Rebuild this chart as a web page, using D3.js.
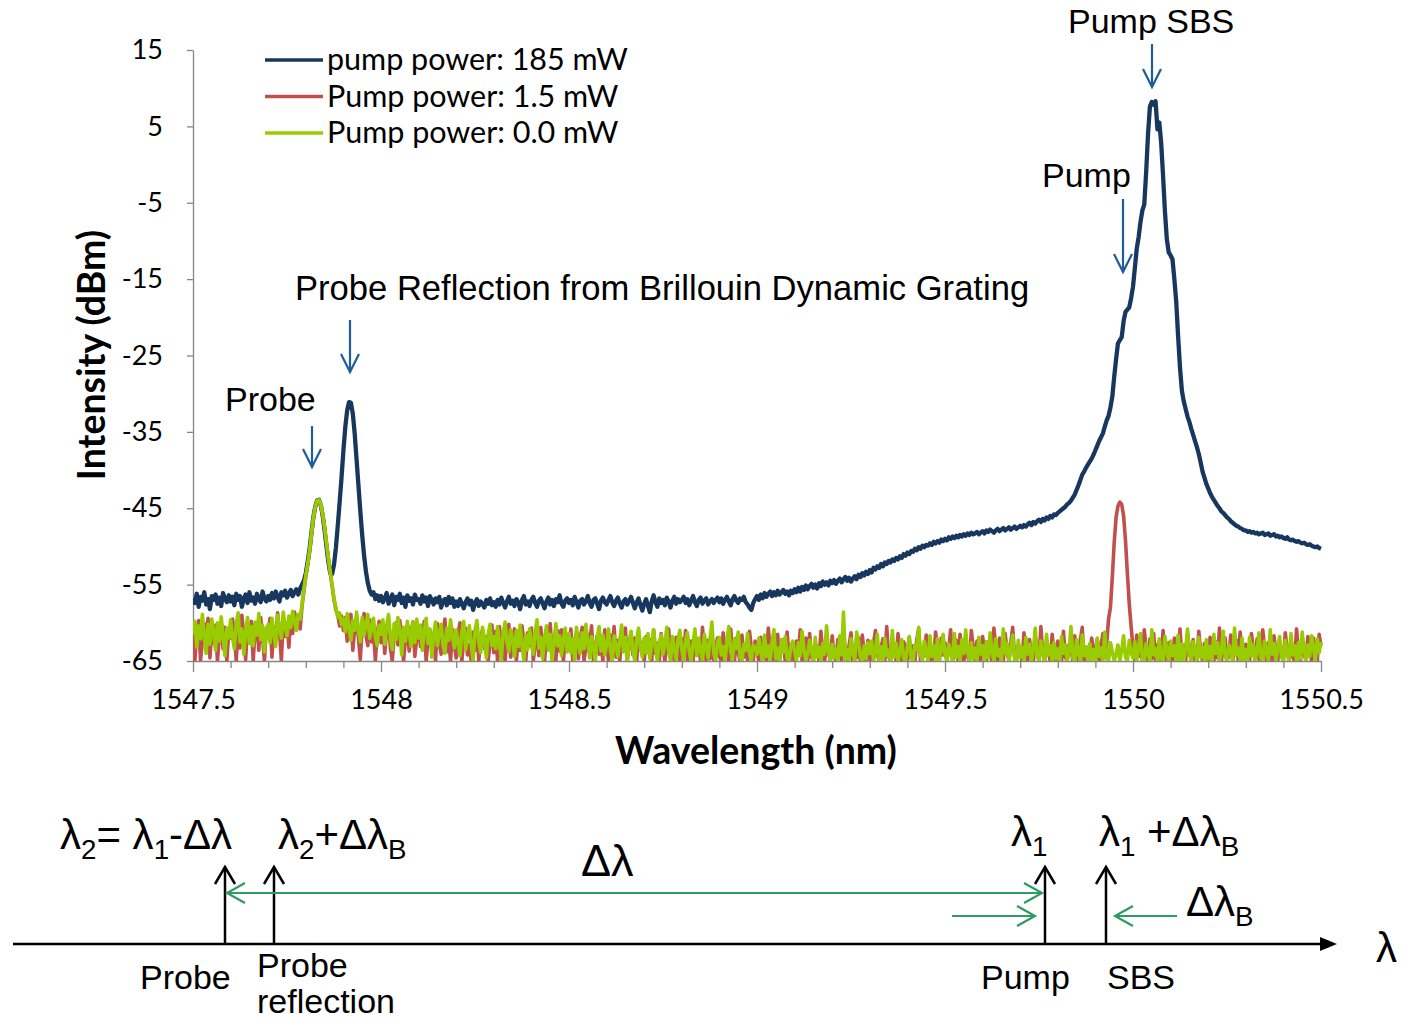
<!DOCTYPE html>
<html>
<head>
<meta charset="utf-8">
<script src="https://cdn.jsdelivr.net/npm/d3@7"></script>
<style>
  html, body { margin: 0; padding: 0; background: #fff; }
  svg { display: block; }
  text { white-space: pre; }
</style>
</head>
<body>
<svg id="chart" width="1402" height="1022"></svg>
<script>
// Optical spectrum: wavelength grid of the analyser (nm)
const waveStart = 1547.5;
const waveStep = 0.005;

// Intensity (dBm), pump power 185 mW
const pump185 = [
-56.8,-57.4,-56.2,-57.9,-56.6,-57.1,-56.0,-57.6,-56.9,-58.2,-56.5,-57.0,-56.3,-57.5,-56.7,-57.8,-56.1,-56.9,-57.3,-56.4,
-57.2,-56.6,-57.7,-56.2,-57.0,-56.5,-57.9,-56.8,-56.3,-57.4,-56.0,-57.1,-56.7,-57.5,-56.2,-56.9,-57.3,-55.9,-56.8,-57.2,
-56.5,-57.0,-56.1,-56.8,-55.9,-56.6,-57.2,-56.0,-56.4,-55.8,-56.7,-56.2,-55.7,-56.5,-56.0,-55.6,-56.3,-55.5,-55.0,-54.5,
-53.5,-52.0,-50.3,-48.2,-46.2,-44.8,-44.0,-43.9,-44.6,-46.0,-47.9,-50.0,-52.0,-53.5,-53.6,-52.4,-50.2,-47.3,-44.2,-41.0,
-37.5,-34.4,-32.2,-31.1,-31.2,-32.6,-35.2,-38.6,-42.0,-45.4,-48.5,-51.2,-53.3,-54.8,-55.8,-56.3,-56.0,-56.9,-56.4,-57.1,
-56.5,-57.3,-56.8,-56.1,-57.5,-56.9,-56.3,-57.7,-56.6,-57.0,-56.2,-57.4,-56.7,-57.9,-56.4,-57.1,-56.8,-57.6,-56.3,-57.0,
-56.9,-57.5,-56.4,-57.2,-56.7,-57.8,-56.5,-57.0,-57.6,-56.8,-57.3,-56.6,-58.0,-57.1,-56.9,-57.7,-56.6,-57.4,-56.8,-57.9,
-57.2,-57.8,-56.9,-57.5,-58.1,-57.3,-56.8,-57.6,-57.1,-58.3,-57.4,-56.9,-57.8,-57.2,-57.6,-58.0,-57.0,-57.5,-56.8,-57.7,
-57.3,-57.9,-57.0,-57.6,-56.7,-57.4,-58.0,-57.2,-56.6,-57.5,-57.1,-57.8,-56.9,-57.3,-58.2,-57.0,-56.5,-57.6,-57.2,-57.8,
-57.0,-56.6,-57.4,-57.9,-57.1,-56.8,-57.5,-58.1,-57.2,-56.7,-57.6,-57.0,-57.8,-56.9,-57.3,-56.4,-57.5,-57.9,-57.1,-56.8,
-57.4,-57.0,-57.7,-56.6,-57.3,-58.0,-57.1,-56.9,-57.6,-57.2,-56.5,-57.4,-57.9,-57.0,-56.8,-57.5,-58.2,-57.1,-56.7,-57.3,
-57.6,-57.0,-56.5,-57.3,-57.8,-57.1,-56.7,-57.5,-58.0,-57.2,-56.9,-57.6,-57.1,-56.6,-57.4,-58.1,-57.3,-56.8,-57.7,-58.4,
-57.5,-56.9,-57.8,-58.6,-57.2,-56.4,-57.3,-57.9,-56.8,-57.4,-57.0,-57.7,-56.7,-57.2,-58.0,-57.1,-56.6,-57.5,-56.9,-57.3,
-57.0,-56.6,-57.4,-56.9,-57.7,-57.1,-56.5,-57.3,-57.8,-57.0,-56.7,-57.5,-57.1,-56.8,-57.6,-57.2,-56.9,-57.4,-57.0,-56.7,
-57.3,-56.8,-57.5,-57.0,-56.6,-57.2,-57.7,-56.9,-56.5,-57.1,-57.4,-56.8,-57.0,-56.6,-57.3,-57.6,-58.0,-58.3,-57.4,-56.9,
-56.5,-57.0,-56.3,-56.8,-56.1,-56.6,-56.2,-55.9,-56.5,-56.0,-56.4,-55.8,-56.3,-56.0,-55.7,-56.2,-55.9,-56.4,-55.8,-56.1,
-55.6,-56.0,-55.4,-55.9,-55.3,-55.7,-55.1,-55.6,-55.2,-54.9,-55.4,-55.0,-55.5,-54.8,-55.2,-54.6,-55.0,-54.7,-55.1,-54.5,
-54.8,-54.4,-54.9,-54.5,-54.2,-54.7,-54.3,-54.0,-54.5,-54.1,-54.6,-54.2,-53.9,-54.3,-53.7,-54.0,-53.5,-53.8,-53.3,-53.6,
-53.1,-53.4,-52.8,-53.0,-52.6,-52.8,-52.3,-52.6,-52.1,-52.3,-51.9,-52.1,-51.7,-51.9,-51.5,-51.7,-51.3,-51.5,-51.0,-51.2,
-50.8,-51.0,-50.6,-50.7,-50.3,-50.5,-50.1,-50.3,-49.9,-50.1,-49.8,-49.9,-49.6,-49.8,-49.4,-49.6,-49.3,-49.5,-49.1,-49.3,
-49.0,-49.2,-48.8,-49.0,-48.7,-48.9,-48.6,-48.8,-48.5,-48.7,-48.4,-48.6,-48.3,-48.5,-48.2,-48.4,-48.3,-48.1,-48.4,-48.2,
-48.0,-48.3,-47.9,-48.1,-47.8,-48.0,-48.2,-47.9,-47.7,-48.0,-47.8,-47.6,-47.9,-47.7,-47.5,-47.8,-47.6,-47.4,-47.7,-47.5,
-47.3,-47.5,-47.2,-47.4,-47.1,-46.9,-47.2,-46.8,-47.0,-46.7,-46.5,-46.8,-46.4,-46.6,-46.2,-46.4,-46.0,-46.2,-45.8,-45.9,
-45.6,-45.4,-45.2,-45.0,-44.8,-44.5,-44.3,-44.0,-43.6,-43.2,-42.6,-42.0,-41.3,-40.6,-40.2,-39.7,-39.3,-38.9,-38.5,-38.0,
-37.4,-36.8,-36.2,-35.7,-35.2,-34.3,-33.5,-32.9,-31.8,-30.4,-27.8,-25.5,-23.4,-23.0,-22.6,-20.5,-19.3,-19.0,-18.7,-17.5,
-16.0,-13.5,-11.0,-9.5,-7.5,-6.0,-5.2,-1.0,4.0,7.6,8.2,7.8,8.3,4.6,5.5,2.8,-1.5,-6.2,-9.8,-11.5,
-11.9,-12.4,-15.0,-18.0,-22.5,-26.6,-29.6,-31.0,-32.0,-33.0,-33.7,-34.6,-35.4,-36.2,-37.0,-37.9,-39.0,-40.2,-41.0,-41.8,
-42.4,-43.0,-43.5,-43.9,-44.3,-44.7,-45.0,-45.4,-45.6,-45.9,-46.2,-46.4,-46.7,-46.9,-47.1,-47.3,-47.4,-47.6,-47.7,-47.9,
-47.9,-48.1,-48.0,-48.2,-48.1,-48.3,-48.2,-48.4,-48.3,-48.2,-48.5,-48.4,-48.3,-48.6,-48.5,-48.4,-48.7,-48.6,-48.8,-48.7,
-48.9,-49.0,-48.8,-49.1,-49.2,-49.1,-49.3,-49.4,-49.3,-49.5,-49.6,-49.5,-49.7,-49.8,-49.7,-49.9,-50.0,-50.1,-50.0,-50.2,
-50.3
];

// Intensity (dBm), pump power 1.5 mW
const pump15 = [
-60.8,-64.9,-61.5,-59.7,-65.0,-62.3,-60.1,-63.0,-59.4,-64.6,-61.0,-62.7,-60.3,-65.0,-61.8,-59.9,-63.4,-60.6,-65.0,-61.2,
-62.0,-59.5,-61.4,-65.0,-60.2,-63.3,-59.0,-61.7,-64.8,-60.5,-62.4,-59.8,-65.0,-61.1,-60.0,-63.6,-59.3,-61.9,-65.0,-60.7,
-61.3,-59.4,-64.5,-60.6,-62.2,-58.7,-61.0,-65.0,-59.6,-61.8,-60.0,-63.2,-59.2,-61.4,-58.6,-60.3,-59.0,-60.8,-57.8,-55.8,
-54.0,-52.5,-50.8,-48.6,-46.5,-45.0,-44.2,-44.0,-44.7,-46.0,-47.7,-49.7,-51.7,-53.5,-55.2,-57.0,-58.3,-59.0,-60.4,-59.1,
-61.0,-59.3,-62.4,-60.0,-58.9,-63.6,-60.7,-59.5,-62.0,-64.8,-60.4,-58.8,-61.7,-63.0,-59.6,-62.5,-60.9,-65.0,-61.3,-59.8,
-62.6,-60.2,-64.0,-61.0,-59.5,-63.3,-65.0,-61.6,-60.0,-62.9,-59.7,-61.4,-65.0,-62.1,-60.5,-63.7,-61.2,-59.9,-64.4,-62.0,
-60.6,-63.1,-61.9,-59.8,-65.0,-62.4,-60.9,-63.5,-61.3,-65.0,-60.1,-62.7,-64.1,-61.5,-59.5,-63.8,-62.2,-65.0,-60.8,-62.9,
-64.6,-61.4,-60.0,-65.0,-62.3,-60.7,-64.2,-62.9,-65.0,-61.2,-63.6,-60.4,-65.0,-62.0,-60.9,-63.4,-61.8,-65.0,-62.6,-60.3,
-63.9,-61.1,-65.0,-60.5,-63.2,-62.0,-65.0,-61.7,-60.2,-64.5,-62.8,-60.8,-65.0,-61.9,-63.6,-60.4,-62.4,-65.0,-61.3,-63.0,
-60.7,-65.0,-62.9,-61.4,-64.3,-60.6,-63.5,-65.0,-61.8,-62.6,-60.1,-64.0,-62.3,-65.0,-61.0,-63.7,-60.9,-65.0,-62.1,-61.6,
-63.4,-60.8,-65.0,-62.5,-61.2,-64.7,-62.0,-60.6,-65.0,-63.0,-61.5,-62.8,-60.4,-65.0,-63.3,-61.7,-64.1,-62.4,-65.0,-60.9,
-62.7,-65.0,-61.6,-63.2,-60.5,-64.5,-62.3,-65.0,-61.9,-63.7,-60.7,-65.0,-62.8,-61.3,-64.2,-62.0,-65.0,-61.1,-63.5,-62.6,
-65.0,-61.8,-63.9,-62.2,-65.0,-60.9,-64.0,-62.7,-65.0,-61.4,-63.3,-65.0,-62.5,-60.8,-64.6,-63.0,-65.0,-61.9,-63.6,-65.0,
-62.1,-64.3,-61.0,-65.0,-63.1,-62.4,-65.0,-61.7,-64.1,-62.9,-65.0,-60.6,-63.8,-65.0,-62.3,-64.7,-61.5,-65.0,-63.2,-62.0,
-64.4,-65.0,-61.3,-63.6,-62.5,-65.0,-60.8,-64.2,-65.0,-62.0,-63.9,-65.0,-61.6,-64.5,-62.8,-65.0,-61.1,-63.3,-65.0,-62.4,
-63.7,-65.0,-61.9,-64.6,-62.6,-65.0,-60.7,-63.4,-65.0,-62.1,-64.9,-61.5,-65.0,-63.0,-62.2,-65.0,-61.2,-64.3,-65.0,-62.8,
-65.0,-62.4,-64.1,-60.9,-65.0,-63.6,-62.0,-65.0,-61.4,-64.5,-65.0,-62.7,-63.3,-65.0,-61.1,-64.0,-65.0,-62.5,-63.8,-65.0,
-61.7,-64.4,-65.0,-62.2,-63.5,-65.0,-60.6,-64.2,-65.0,-62.9,-61.3,-65.0,-63.7,-64.6,-62.0,-65.0,-61.6,-63.9,-65.0,-62.3,
-64.8,-65.0,-62.6,-61.0,-64.1,-65.0,-63.2,-62.1,-65.0,-60.5,-64.4,-65.0,-62.8,-63.6,-65.0,-61.4,-64.0,-65.0,-62.5,-63.1,
-65.0,-61.9,-64.6,-63.0,-65.0,-62.2,-60.8,-65.0,-63.8,-64.3,-61.6,-65.0,-62.7,-64.9,-65.0,-61.2,-63.5,-65.0,-62.0,-64.2,
-62.6,-65.0,-63.4,-60.9,-65.0,-64.0,-62.3,-65.0,-61.5,-63.9,-65.0,-62.8,-64.5,-65.0,-61.0,-63.2,-65.0,-62.4,-64.7,-65.0,
-61.8,-63.6,-65.0,-62.5,-64.2,-65.0,-60.7,-63.1,-65.0,-62.0,-64.8,-65.0,-61.4,-63.7,-65.0,-62.6,-60.6,-64.3,-65.0,-62.9,
-64.0,-65.0,-61.3,-63.5,-65.0,-62.2,-64.6,-65.0,-61.9,-63.0,-65.0,-60.5,-64.1,-65.0,-62.7,-63.8,-65.0,-61.5,-64.4,-65.0,
-62.4,-63.9,-65.0,-61.1,-64.5,-65.0,-62.8,-63.4,-65.0,-61.7,-64.0,-65.0,-62.3,-60.6,-65.0,-63.6,-64.7,-65.0,-62.0,-63.3,
-64.6,-62.1,-65.0,-63.0,-61.4,-64.2,-62.8,-59.5,-58.0,-54.0,-49.5,-46.2,-44.7,-44.2,-44.5,-46.0,-49.2,-53.5,-57.5,-60.5,
-63.2,-65.0,-61.6,-64.4,-62.8,-65.0,-60.9,-63.5,-65.0,-62.1,-64.7,-61.4,-65.0,-63.0,-62.4,-65.0,-61.0,-64.3,-65.0,-62.6,
-64.1,-65.0,-62.0,-63.7,-65.0,-60.8,-64.5,-62.9,-65.0,-61.5,-63.4,-65.0,-62.2,-64.8,-65.0,-61.1,-63.6,-65.0,-62.7,-64.0,
-65.0,-61.9,-63.3,-65.0,-62.5,-64.6,-60.7,-65.0,-63.1,-62.0,-65.0,-64.2,-61.6,-65.0,-63.8,-62.3,-65.0,-61.2,-64.4,-65.0,
-62.8,-64.0,-65.0,-61.4,-63.5,-65.0,-62.1,-64.7,-65.0,-60.9,-63.2,-65.0,-62.6,-64.3,-65.0,-61.7,-63.9,-65.0,-62.4,-64.1,
-65.0,-61.3,-63.6,-65.0,-62.2,-64.5,-65.0,-60.8,-63.7,-65.0,-62.9,-64.0,-65.0,-61.8,-63.4,-65.0,-62.0,-64.6,-65.0,-61.5,
-63.0
];

// Intensity (dBm), pump power 0.0 mW
const pump00 = [
-61.5,-59.8,-63.2,-60.4,-62.1,-58.9,-61.7,-64.0,-60.2,-62.8,-59.5,-61.3,-63.6,-60.0,-62.4,-59.2,-61.8,-64.3,-60.7,-62.0,
-59.6,-61.9,-63.4,-60.1,-58.7,-62.5,-60.8,-64.1,-61.2,-59.3,-62.7,-60.5,-63.0,-59.9,-61.6,-58.8,-62.2,-60.3,-63.8,-61.0,
-60.2,-62.6,-59.4,-61.5,-63.1,-59.0,-60.9,-62.0,-58.6,-60.4,-61.7,-59.1,-60.6,-58.5,-59.8,-61.0,-58.9,-59.5,-57.5,-55.5,
-53.8,-52.3,-50.6,-48.4,-46.3,-44.8,-44.0,-43.9,-44.5,-45.8,-47.5,-49.5,-51.5,-53.3,-55.0,-56.8,-58.0,-59.3,-58.7,-60.2,
-59.5,-61.2,-58.8,-60.6,-62.3,-59.7,-61.0,-58.6,-60.9,-62.5,-59.3,-61.6,-60.2,-58.9,-62.0,-60.7,-59.4,-61.8,-63.0,-60.3,
-61.5,-59.6,-62.8,-60.4,-58.9,-61.9,-63.5,-60.1,-62.2,-59.3,-61.0,-64.2,-60.6,-62.4,-59.8,-61.3,-63.1,-60.0,-62.6,-59.5,
-62.0,-60.3,-63.6,-61.1,-59.4,-62.7,-60.8,-64.5,-61.6,-59.9,-63.0,-61.4,-60.2,-62.9,-64.0,-60.7,-62.3,-59.6,-61.8,-63.3,
-60.9,-62.6,-64.3,-61.2,-59.8,-63.5,-61.7,-60.4,-62.8,-65.0,-61.0,-59.7,-62.4,-63.9,-60.6,-62.1,-64.6,-61.5,-60.2,-63.0,
-61.8,-63.4,-60.5,-62.7,-64.8,-61.3,-59.9,-62.5,-63.8,-60.9,-62.2,-64.4,-61.0,-63.1,-60.3,-62.9,-65.0,-61.6,-63.5,-60.8,
-62.4,-64.1,-61.2,-59.6,-63.3,-61.9,-64.7,-62.0,-60.4,-63.6,-61.5,-65.0,-62.6,-60.1,-63.0,-61.7,-64.3,-62.2,-60.7,-63.8,
-61.4,-63.9,-62.1,-65.0,-60.6,-62.8,-64.0,-61.3,-63.4,-60.2,-62.5,-64.6,-61.8,-63.2,-65.0,-62.0,-60.5,-63.7,-61.6,-64.2,
-62.9,-60.8,-63.5,-65.0,-61.7,-63.0,-64.4,-62.3,-60.3,-63.8,-61.9,-64.9,-62.6,-61.1,-63.6,-65.0,-62.2,-60.7,-63.3,-64.5,
-62.0,-63.9,-61.4,-64.7,-62.8,-60.9,-63.2,-65.0,-62.5,-61.6,-64.1,-62.9,-60.6,-63.7,-65.0,-61.8,-63.4,-64.8,-62.1,-61.0,
-63.5,-64.9,-62.4,-61.3,-63.8,-65.0,-62.7,-60.8,-64.3,-62.0,-63.6,-65.0,-61.5,-63.0,-64.6,-62.2,-59.9,-63.9,-65.0,-62.6,
-61.9,-64.2,-63.1,-65.0,-62.3,-60.5,-63.7,-64.8,-62.1,-63.4,-61.2,-64.5,-65.0,-62.8,-63.6,-61.4,-64.0,-65.0,-62.9,-63.3,
-64.1,-62.0,-63.8,-65.0,-61.6,-64.4,-63.0,-65.0,-62.5,-60.9,-64.7,-63.3,-65.0,-62.2,-63.9,-61.8,-64.6,-65.0,-63.1,-62.4,
-63.7,-65.0,-62.6,-64.3,-61.1,-63.5,-65.0,-64.0,-62.3,-63.8,-65.0,-61.9,-64.5,-63.2,-65.0,-62.7,-64.1,-60.4,-63.6,-65.0,
-62.8,-64.6,-63.4,-65.0,-61.7,-64.2,-58.6,-65.0,-63.5,-64.8,-62.1,-63.9,-65.0,-61.2,-62.5,-64.4,-65.0,-63.0,-64.7,-62.6,
-64.0,-62.4,-65.0,-63.7,-61.5,-64.9,-63.1,-65.0,-62.0,-64.3,-63.6,-65.0,-61.0,-64.5,-62.7,-65.0,-63.8,-62.2,-64.6,-65.0,
-63.2,-61.8,-64.7,-65.0,-62.9,-63.5,-60.6,-64.1,-65.0,-62.4,-63.9,-65.0,-61.7,-64.4,-63.0,-65.0,-62.1,-64.8,-63.6,-61.5,
-64.2,-65.0,-62.8,-63.7,-65.0,-61.4,-64.5,-63.1,-65.0,-62.2,-64.0,-60.9,-63.8,-65.0,-62.6,-64.7,-63.3,-65.0,-61.9,-64.1,
-63.0,-65.0,-62.5,-64.6,-61.3,-63.9,-65.0,-62.1,-64.3,-63.5,-65.0,-60.8,-64.0,-62.7,-65.0,-63.4,-61.6,-64.9,-65.0,-62.3,
-64.5,-63.2,-65.0,-61.9,-64.1,-62.8,-65.0,-63.6,-60.7,-64.4,-65.0,-62.4,-63.8,-65.0,-61.5,-64.2,-63.0,-65.0,-62.6,-64.7,
-63.4,-65.0,-61.8,-64.0,-62.9,-65.0,-63.7,-60.5,-64.6,-65.0,-62.2,-63.9,-65.0,-61.6,-64.3,-63.1,-65.0,-62.7,-64.8,-63.5,
-65.0,-62.0,-64.4,-63.3,-65.0,-61.2,-64.7,-65.0,-62.6,-63.8,-65.0,-64.1,-62.9,-65.0,-63.6,-61.7,-64.5,-65.0,-62.3,-63.9,
-64.6,-62.5,-65.0,-63.2,-61.4,-64.8,-65.0,-62.7,-63.9,-65.0,-60.9,-64.2,-63.4,-65.0,-62.1,-64.6,-65.0,-61.8,-63.7,-65.0,
-62.4,-64.3,-63.0,-65.0,-61.6,-64.9,-62.8,-65.0,-63.5,-60.8,-64.1,-65.0,-62.5,-63.8,-65.0,-61.9,-64.5,-63.2,-65.0,-62.2,
-64.7,-63.1,-65.0,-61.5,-64.0,-62.6,-65.0,-63.8,-61.1,-64.4,-65.0,-62.9,-63.6,-65.0,-60.7,-64.2,-63.3,-65.0,-62.0,-64.8,
-63.5,-65.0,-61.9,-64.3,-62.8,-65.0,-63.7,-61.3,-64.6,-65.0,-62.4,-63.9,-65.0,-60.9,-64.1,-62.7,-65.0,-63.4,-61.8,-64.5,
-65.0,-62.3,-63.8,-65.0,-61.4,-64.2,-63.0,-65.0,-62.6,-64.7,-61.2,-63.6,-65.0,-62.9,-64.4,-61.7,-63.3,-65.0,-62.1,-63.9,
-62.5
];

const seriesNames = ["pump power: 185 mW", "Pump power: 1.5 mW", "Pump power: 0.0 mW"];
const seriesColors = ["#17375e", "#c0504d", "#99cc00"];
const xTickValues = [1547.5, 1548, 1548.5, 1549, 1549.5, 1550, 1550.5];
const yTickValues = [15, 5, -5, -15, -25, -35, -45, -55, -65];

const svg = d3.select("#chart");
const chartFont = "Lato, 'Open Sans', sans-serif";
const noteFont = "'Liberation Sans', Arial, sans-serif";
const arrowBlue = "#1f5c9c";
const diagramGreen = "#2f9a62";

const plot = { left: 193, right: 1321, top: 50, bottom: 661 };
const x = d3.scaleLinear().domain([1547.5, 1550.5]).range([plot.left, plot.right]);
const y = d3.scaleLinear().domain([-65, 15]).range([plot.bottom, plot.top]);

// ---------- axes ----------
const axisColor = "#868686";
const minorTicks = d3.range(1, 30).map(i => +(1547.5 + i * 0.1).toFixed(1)).filter(v => !xTickValues.includes(v));

svg.append("g")
  .attr("transform", `translate(0,${plot.bottom})`)
  .call(d3.axisBottom(x).tickValues(minorTicks).tickSize(7).tickSizeOuter(0).tickFormat(""))
  .call(g => g.select(".domain").remove())
  .call(g => g.selectAll("line").attr("stroke", axisColor).attr("stroke-width", 1.3));

svg.append("g")
  .attr("transform", `translate(0,${plot.bottom})`)
  .call(d3.axisBottom(x).tickValues(xTickValues).tickSize(11).tickSizeOuter(0).tickPadding(18).tickFormat(d => String(d)))
  .call(g => g.select(".domain").attr("stroke", axisColor).attr("stroke-width", 1.3))
  .call(g => g.selectAll("line").attr("stroke", axisColor).attr("stroke-width", 1.3))
  .call(g => g.selectAll("text").attr("font-family", chartFont).attr("font-size", 27).attr("fill", "#000"));

svg.append("g")
  .attr("transform", `translate(${plot.left},0)`)
  .call(d3.axisLeft(y).tickValues(yTickValues).tickSize(6).tickSizeOuter(0).tickPadding(24).tickFormat(d => String(d)))
  .call(g => g.select(".domain").attr("stroke", axisColor).attr("stroke-width", 1.3))
  .call(g => g.selectAll("line").attr("stroke", axisColor).attr("stroke-width", 1.3))
  .call(g => g.selectAll("text").attr("font-family", chartFont).attr("font-size", 27).attr("fill", "#000"));

svg.append("text")
  .attr("x", 756).attr("y", 764)
  .attr("text-anchor", "middle")
  .attr("font-family", chartFont).attr("font-weight", "bold").attr("font-size", 37.5)
  .text("Wavelength (nm)");

svg.append("text")
  .attr("transform", "translate(105,355) rotate(-90)")
  .attr("text-anchor", "middle")
  .attr("font-family", chartFont).attr("font-weight", "bold").attr("font-size", 37.5)
  .text("Intensity (dBm)");

// ---------- spectra ----------
svg.append("defs").append("clipPath").attr("id", "plot-clip")
  .append("rect")
  .attr("x", plot.left).attr("y", plot.top - 10)
  .attr("width", plot.right - plot.left + 2).attr("height", plot.bottom - plot.top + 10);

const line = d3.line()
  .x((d, i) => x(waveStart + i * waveStep))
  .y(d => y(d));

const spectra = [pump185, pump15, pump00];
const widths = [4.3, 3.6, 3.6];
const traces = svg.append("g").attr("clip-path", "url(#plot-clip)");
spectra.forEach((s, k) => {
  traces.append("path")
    .datum(s)
    .attr("d", line)
    .attr("fill", "none")
    .attr("stroke", seriesColors[k])
    .attr("stroke-width", widths[k])
    .attr("stroke-linejoin", "round");
});

// ---------- legend ----------
const legend = svg.append("g");
seriesNames.forEach((name, k) => {
  const ly = 60 + k * 36.5;
  legend.append("line")
    .attr("x1", 265).attr("x2", 323).attr("y1", ly).attr("y2", ly)
    .attr("stroke", seriesColors[k]).attr("stroke-width", 3.5);
  legend.append("text")
    .attr("x", 327).attr("y", ly + 10)
    .attr("font-family", chartFont).attr("font-size", 30.5).attr("fill", "#000")
    .text(name);
});

// ---------- peak annotations ----------
function downArrow(ax, y1, y2, color, half, head) {
  const g = svg.append("g").attr("stroke", color).attr("stroke-width", 2.2).attr("fill", "none");
  g.append("line").attr("x1", ax).attr("x2", ax).attr("y1", y1).attr("y2", y2);
  g.append("polyline").attr("points", `${ax - half},${y2 - head} ${ax},${y2} ${ax + half},${y2 - head}`);
}
function note(tx, ty, str, size) {
  svg.append("text").attr("x", tx).attr("y", ty)
    .attr("font-family", noteFont).attr("font-size", size || 34).attr("fill", "#000")
    .text(str);
}

note(1068, 33, "Pump SBS");
downArrow(1152, 44, 87, arrowBlue, 9, 18);
note(1042, 187, "Pump");
downArrow(1123, 199, 272, arrowBlue, 9, 18);
note(295, 300, "Probe Reflection from Brillouin Dynamic Grating", 34.6);
downArrow(350, 320, 372, arrowBlue, 9, 18);
note(225, 411, "Probe");
downArrow(312, 426, 467, arrowBlue, 9, 18);

// ---------- schematic of the spectral lines ----------
const baseY = 944;
svg.append("line").attr("x1", 13).attr("x2", 1322).attr("y1", baseY).attr("y2", baseY)
  .attr("stroke", "#000").attr("stroke-width", 2.5);
svg.append("polygon").attr("points", `1320,937 1337,${baseY} 1320,951`).attr("fill", "#000");

function upArrow(ax) {
  const g = svg.append("g").attr("stroke", "#000").attr("stroke-width", 2.5).attr("fill", "none");
  g.append("line").attr("x1", ax).attr("x2", ax).attr("y1", baseY).attr("y2", 867);
  g.append("polyline").attr("points", `${ax - 10},${884} ${ax},${867} ${ax + 10},${884}`);
}
[225, 274, 1045, 1106].forEach(upArrow);

function hArrow(x1, x2, yy, both) {
  const g = svg.append("g").attr("stroke", diagramGreen).attr("stroke-width", 2.2).attr("fill", "none");
  g.append("line").attr("x1", x1).attr("x2", x2).attr("y1", yy).attr("y2", yy);
  const dir = Math.sign(x2 - x1);
  g.append("polyline").attr("points", `${x2 - dir * 18},${yy - 10} ${x2},${yy} ${x2 - dir * 18},${yy + 10}`);
  if (both) g.append("polyline").attr("points", `${x1 + dir * 18},${yy - 10} ${x1},${yy} ${x1 + dir * 18},${yy + 10}`);
}
hArrow(227, 1042, 893, true);
hArrow(952, 1035, 916, false);
hArrow(1177, 1115, 916, false);

function greekLabel(tx, ty, parts, size) {
  const t = svg.append("text").attr("x", tx).attr("y", ty)
    .attr("font-family", noteFont).attr("font-size", size).attr("fill", "#000");
  let lowered = false;
  parts.forEach(p => {
    const ts = t.append("tspan").text(p.t);
    if (p.sub) {
      ts.attr("font-size", size * 0.66);
      if (!lowered) { ts.attr("dy", 10); lowered = true; }
    } else if (lowered) {
      ts.attr("dy", -10); lowered = false;
    }
  });
}
greekLabel(60, 849, [{ t: "λ" }, { t: "2", sub: true }, { t: "= λ" }, { t: "1", sub: true }, { t: "-Δλ" }], 42);
greekLabel(278, 849, [{ t: "λ" }, { t: "2", sub: true }, { t: "+Δλ" }, { t: "B", sub: true }], 42);
greekLabel(1011, 846, [{ t: "λ" }, { t: "1", sub: true }], 42);
greekLabel(1099, 846, [{ t: "λ" }, { t: "1", sub: true }, { t: " +Δλ" }, { t: "B", sub: true }], 42);
greekLabel(1186, 916, [{ t: "Δλ" }, { t: "B", sub: true }], 42);
greekLabel(581, 876, [{ t: "Δλ" }], 45);
greekLabel(1376, 962, [{ t: "λ" }], 42);

note(140, 989, "Probe");
note(257, 977, "Probe");
note(257, 1013, "reflection");
note(981, 989, "Pump");
note(1107, 989, "SBS");
</script>
</body>
</html>
